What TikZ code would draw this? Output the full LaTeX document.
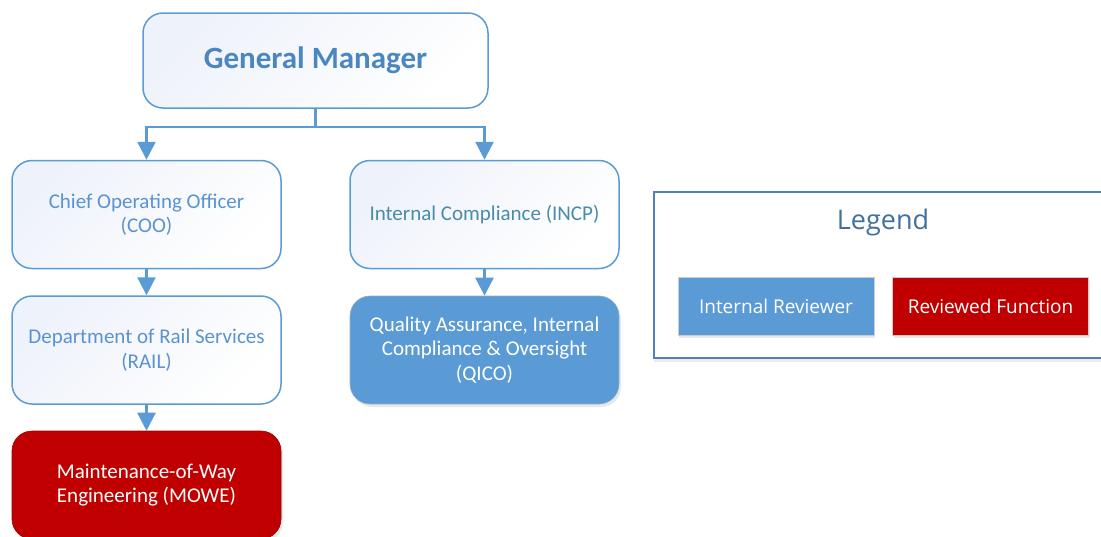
\documentclass[tikz,border=0pt]{standalone}
\usepackage{fontspec}
\setmainfont{Carlito}
\newfontfamily\legfont{Open Sans}
\usetikzlibrary{arrows.meta,shadows}

\definecolor{lineblue}{HTML}{5B9BD5}
\definecolor{boxtint}{HTML}{EEF2FA}
\definecolor{gmtext}{HTML}{4A86C1}
\definecolor{unittext}{HTML}{5A93CF}
\definecolor{tealtext}{HTML}{4A8BA8}
\definecolor{revblue}{HTML}{5B9BD5}
\definecolor{funcred}{HTML}{C00000}
\definecolor{legline}{HTML}{4F7FBF}
\definecolor{legtext}{HTML}{41719C}

\tikzset{
  boxbase/.style={rounded corners=20pt, minimum width=269pt,
    minimum height=108pt, align=center, font=\fontsize{21}{24.5}\selectfont},
  unitbox/.style={boxbase, draw=lineblue, line width=1.5pt,
    top color=boxtint, bottom color=white, shading angle=45, text=unittext},
  revbox/.style={boxbase, fill=revblue, draw=revblue!80!black!60,
    line width=0.6pt, text=white,
    drop shadow={opacity=0.18, shadow xshift=2pt, shadow yshift=-3pt}},
  funcbox/.style={revbox, fill=funcred, draw=funcred!80!black},
  legkey/.style={minimum width=196pt, minimum height=58pt, draw=black!20,
    line width=0.8pt, text=white, font=\legfont\fontsize{19}{22}\selectfont,
    drop shadow={opacity=0.18, shadow xshift=1pt, shadow yshift=-3pt}},
  link/.style={draw=lineblue, line width=2.5pt,
    -{Triangle[width=18pt,length=18pt]}}
}

\begin{document}
\begin{tikzpicture}[x=1pt,y=-1pt]
\useasboundingbox (0,0) rectangle (1101,536);
\clip (0,0) rectangle (1101,536);

% org chart
\node[unitbox, minimum width=345pt, minimum height=95pt, text=gmtext,
  font=\fontsize{31}{36}\selectfont\bfseries] (gm) at (315.5,60.5) {General Manager};
\node[unitbox] (coo) at (146.5,214.5) {Chief Operating Officer\\(COO)};
\node[unitbox, text=tealtext] (incp) at (484.5,214.5) {Internal Compliance (INCP)};
\node[unitbox] (rail) at (146.5,350) {Department of Rail Services\\(RAIL)};
\node[revbox] (qico) at (484.5,350) {Quality Assurance, Internal\\Compliance \& Oversight\\(QICO)};
\node[funcbox] (mowe) at (146.5,485) {Maintenance-of-Way\\Engineering (MOWE)};

\coordinate (split) at ([yshift=-18pt]gm.south);
\draw[lineblue, line width=2.5pt] (gm.south) -- (split);
\draw[link] (split) -| (coo.north);
\draw[link] (split) -| (incp.north);
\draw[link] (coo.south) -- (rail.north);
\draw[link] (incp.south) -- (qico.north);
\draw[link] (rail.south) -- (mowe.north);

% legend
\node[draw=legline, line width=1.2pt, fill=white, minimum width=470pt,
  minimum height=166pt, drop shadow={opacity=0.15, shadow xshift=0pt, shadow yshift=-4pt}]
  (legend) at (889,275) {};
\node[text=legtext, font=\legfont\fontsize{27}{32}\selectfont] (legtitle) at (883,222) {Legend};
\node[legkey, fill=revblue] (keyrev) at (776,306) {Internal Reviewer};
\node[legkey, fill=funcred] (keyfunc) at (990.5,306) {Reviewed Function};
\end{tikzpicture}
\end{document}
